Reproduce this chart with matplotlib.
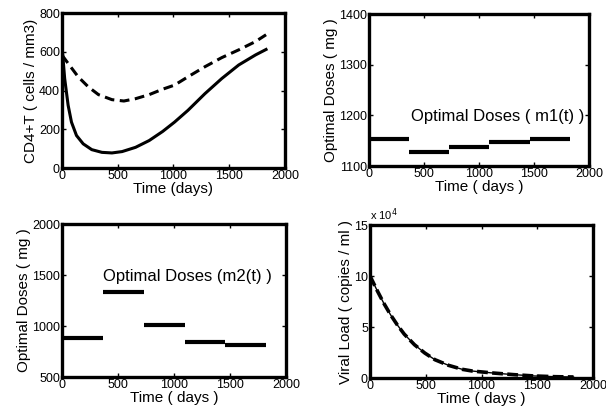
import matplotlib
matplotlib.use("Agg")
import matplotlib.pyplot as plt
from matplotlib.ticker import FuncFormatter

plt.rcParams['font.family'] = ['Liberation Sans', 'DejaVu Sans']

# CD4+ T cells (cells/mm3)
t_cd4_solid = [0, 24, 55, 85, 130, 190, 267, 358, 448, 539, 660, 782, 903, 1009,
               1130, 1282, 1433, 1585, 1736, 1830]
cd4_solid = [630, 462, 324, 237, 168, 125, 95, 81, 78, 85, 107, 142, 189, 237,
             298, 384, 462, 532, 584, 612]
t_cd4_dash = [0, 55, 145, 236, 327, 448, 555, 660, 782, 903, 1009, 1130, 1282,
              1433, 1585, 1736, 1830]
cd4_dash = [583, 540, 471, 419, 379, 353, 346, 358, 379, 407, 428, 471, 523,
            570, 610, 653, 688]

# dose periods (days) and optimal doses (mg)
period_start = [0, 365, 730, 1095, 1460]
period_end = [365, 730, 1095, 1460, 1825]
dose_m1 = [1153, 1127, 1137, 1148, 1153]
dose_m2 = [883, 1331, 1010, 841, 818]

# viral load (copies/ml)
t_vl = [0, 61, 123, 184, 245, 307, 399, 491, 583, 705, 828, 920, 1104, 1288,
        1472, 1656, 1825]
viral = [100000, 86400, 73400, 62000, 52000, 43000, 32600, 24500, 17900, 12400,
         8500, 6800, 4900, 3300, 2000, 1300, 1000]

x_ticks = [0, 500, 1000, 1500, 2000]

fig = plt.figure(figsize=(6.06, 4.17), dpi=100)
ax1 = fig.add_axes([0.1023, 0.597, 0.368, 0.3717])
ax2 = fig.add_axes([0.6089, 0.6019, 0.363, 0.3645])
ax3 = fig.add_axes([0.1023, 0.0959, 0.3696, 0.3669])
ax4 = fig.add_axes([0.6106, 0.0935, 0.368, 0.3669])


def style(ax):
    for s in ax.spines.values():
        s.set_linewidth(2.4)
    ax.tick_params(direction='in', length=3, width=1, top=True, right=True,
                   labelsize=9, pad=1.5)
    ax.set_xlim(0, 2000)
    ax.set_xticks(x_ticks)


ax1.plot(t_cd4_solid, cd4_solid, color='black', lw=2.2)
ax1.plot(t_cd4_dash, cd4_dash, color='black', lw=2.2, dashes=(3.2, 1.8))
style(ax1)
ax1.set_ylim(0, 800)
ax1.set_yticks([0, 200, 400, 600, 800])
ax1.set_xlabel('Time (days)', fontsize=11, labelpad=0)
ax1.set_ylabel('CD4+T ( cells / mm3)', fontsize=11, labelpad=1)

ax2.hlines(dose_m1, period_start, period_end, color='black', lw=3)
style(ax2)
ax2.set_ylim(1100, 1400)
ax2.set_yticks([1100, 1200, 1300, 1400])
ax2.text(380, 1198, 'Optimal Doses ( m1(t) )', fontsize=12, va='center')
ax2.set_xlabel('Time ( days )', fontsize=11, labelpad=0)
ax2.set_ylabel('Optimal Doses ( mg )', fontsize=11, labelpad=1)

ax3.hlines(dose_m2, period_start, period_end, color='black', lw=3)
style(ax3)
ax3.set_ylim(500, 2000)
ax3.set_yticks([500, 1000, 1500, 2000])
ax3.text(366, 1490, 'Optimal Doses (m2(t) )', fontsize=12, va='center')
ax3.set_xlabel('Time ( days )', fontsize=11, labelpad=0)
ax3.set_ylabel('Optimal Doses ( mg )', fontsize=11, labelpad=1)

ax4.plot(t_vl, viral, color='black', lw=1)
ax4.plot(t_vl, viral, color='black', lw=2.6, dashes=(3, 1.2))
style(ax4)
ax4.set_ylim(0, 150000)
ax4.set_yticks([0, 50000, 100000, 150000])
ax4.yaxis.set_major_formatter(FuncFormatter(lambda v, p: f'{v / 1e4:g}'))
ax4.text(0.0, 1.015, 'x 10$^4$', transform=ax4.transAxes, fontsize=8,
         va='bottom', ha='left')
ax4.set_xlabel('Time ( days )', fontsize=11, labelpad=0)
ax4.set_ylabel('Viral Load ( copies / ml )', fontsize=11, labelpad=1)

fig.savefig('out.png', dpi=100)
